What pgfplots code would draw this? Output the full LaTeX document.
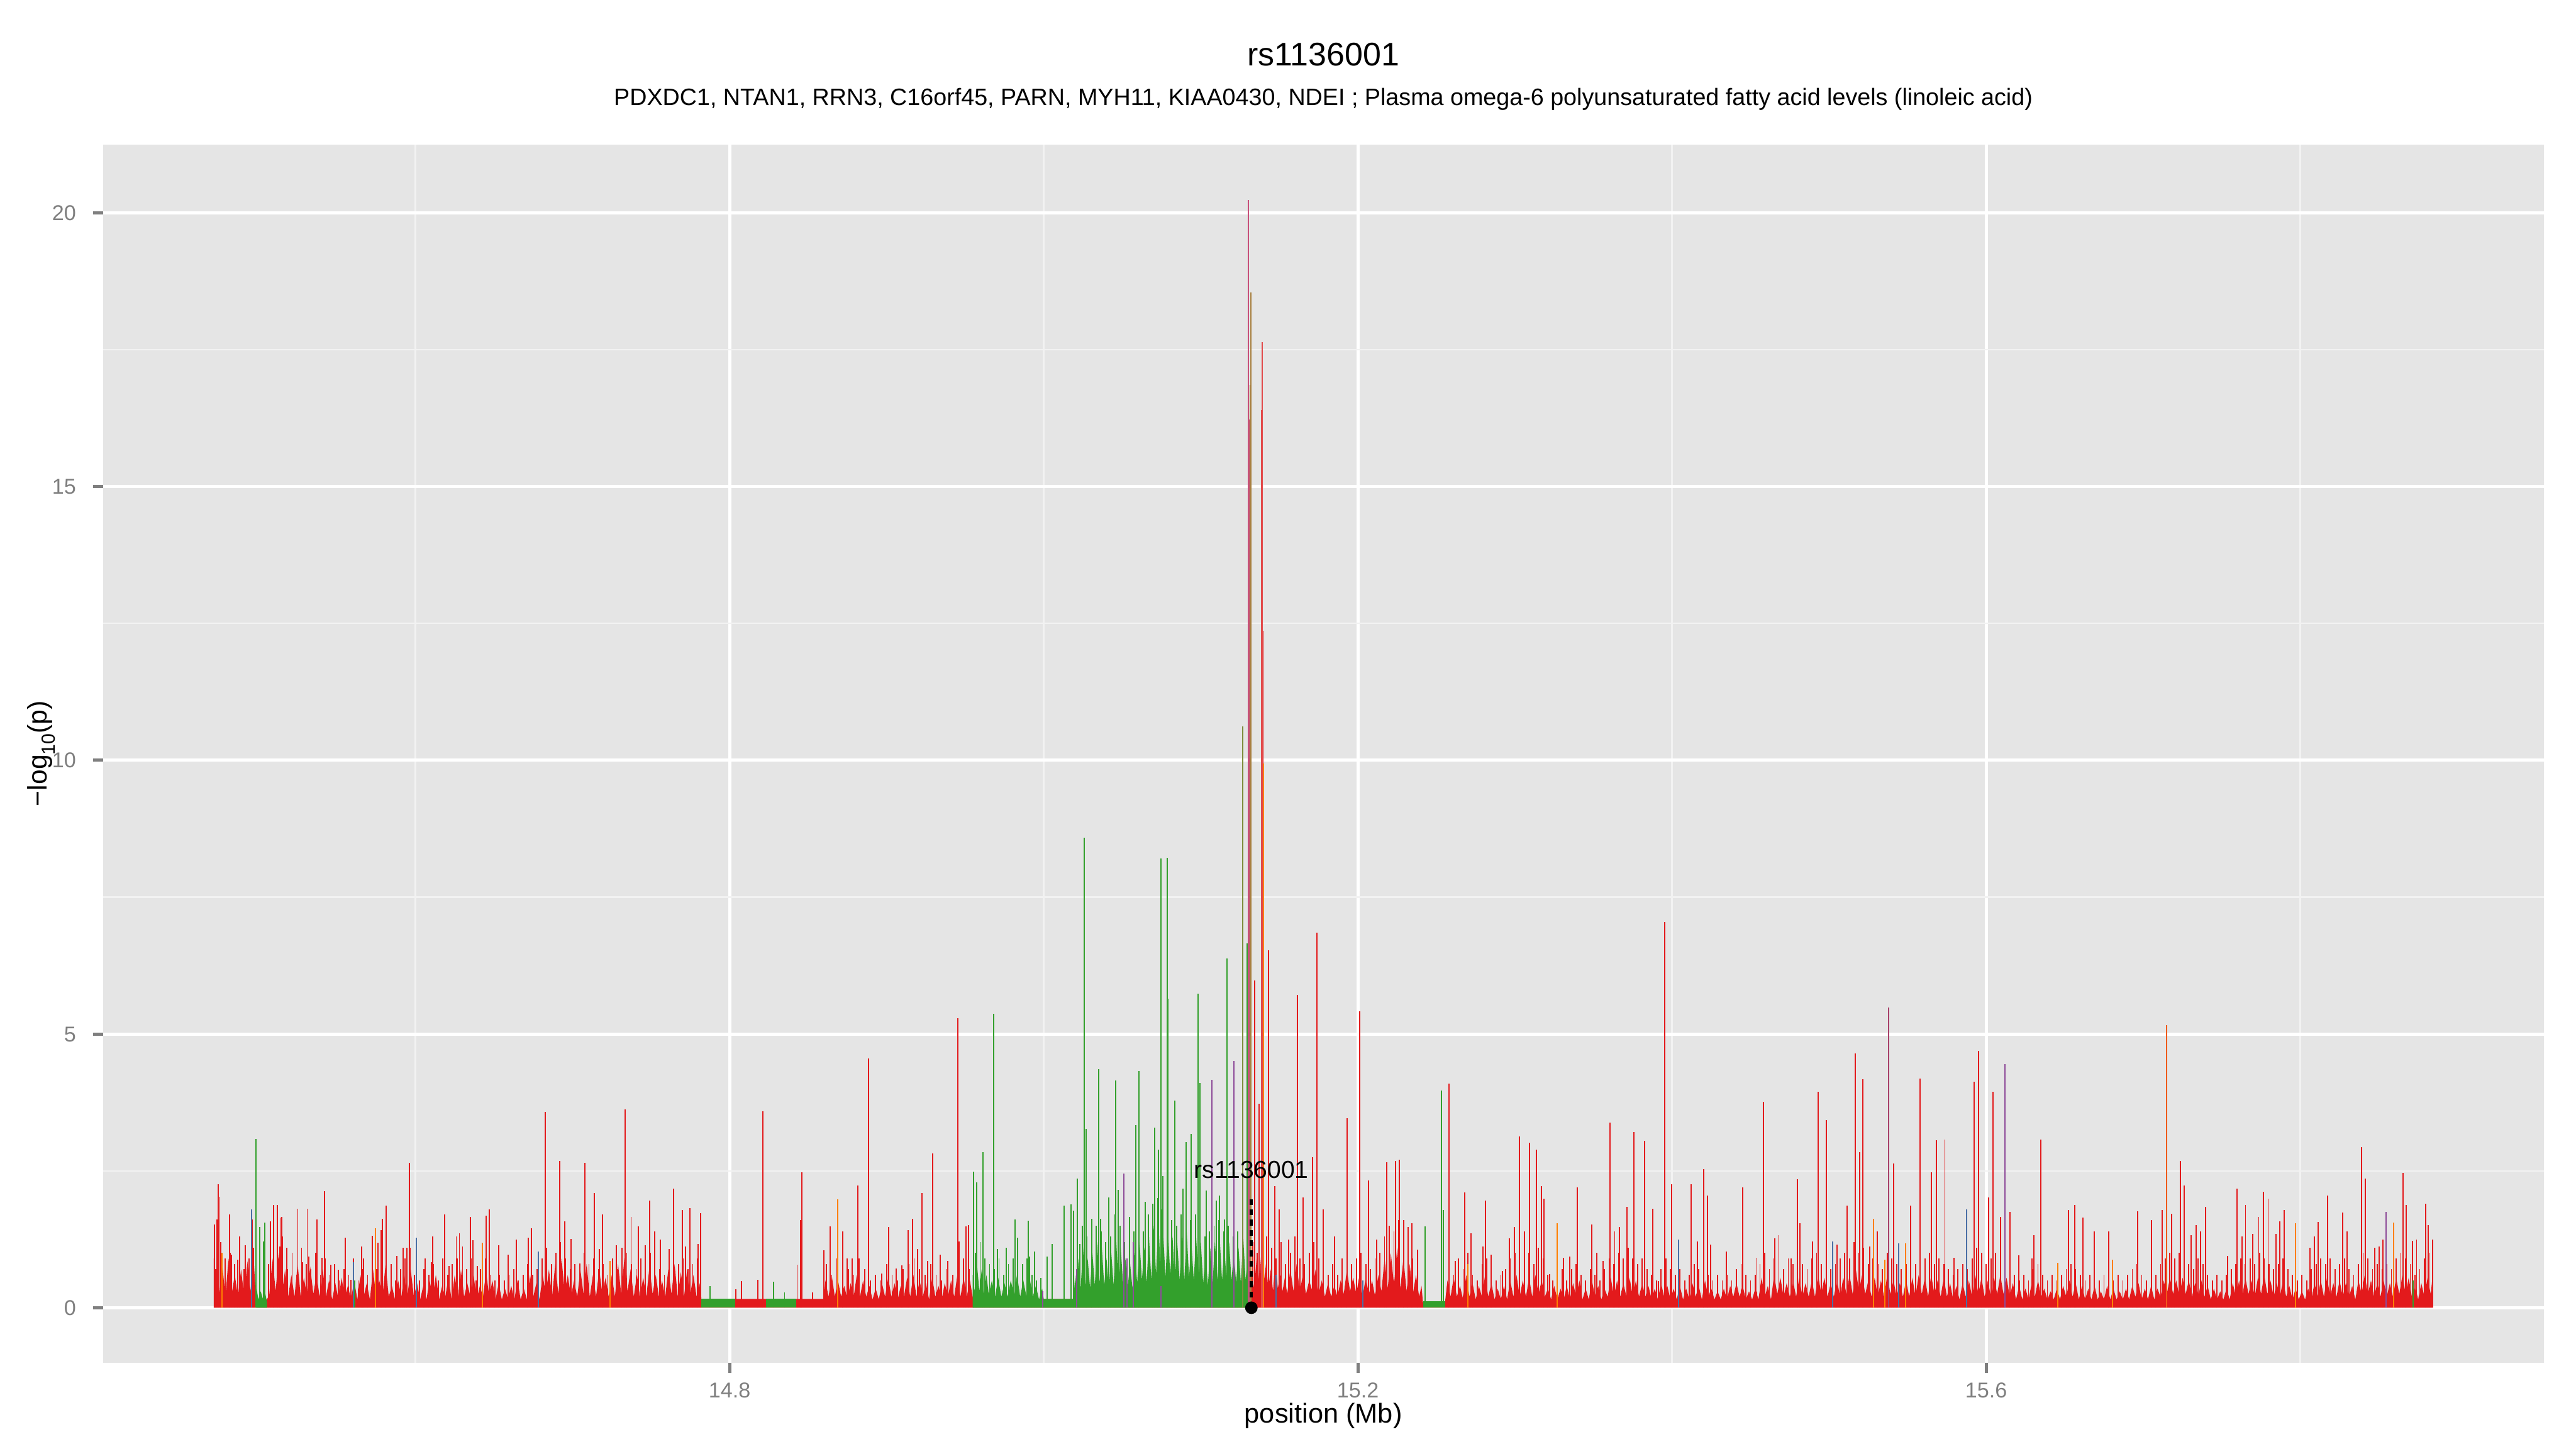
\documentclass[border=0pt]{standalone}
\usepackage{pgfplots}
\pgfplotsset{compat=1.18}
\usepackage{fontspec}
\setmainfont{Liberation Sans}
\definecolor{pred}{HTML}{E31A1C}
\definecolor{pgreen}{HTML}{33A02C}
\definecolor{porange}{HTML}{FF7F00}
\definecolor{pblue}{HTML}{4A6FA5}
\definecolor{ppurple}{HTML}{8E4C99}
\definecolor{polive}{HTML}{7E8E3C}
\definecolor{pmain}{HTML}{C8507A}
\definecolor{pbrown}{HTML}{A88040}
\definecolor{pred2}{HTML}{E24A4A}
\definecolor{pmag}{HTML}{A8406A}
\definecolor{pored}{HTML}{F05A1A}
\definecolor{grey90}{HTML}{E5E5E5}
\definecolor{grey95}{HTML}{F2F2F2}
\definecolor{grey50}{HTML}{7F7F7F}
\begin{document}
\begin{tikzpicture}
\useasboundingbox (0,0) rectangle (1152pt,648pt);
\begin{axis}[
  at={(46pt,38.4pt)}, anchor=south west,
  width=1091.6pt, height=544.8pt, scale only axis,
  xmin=14.401, xmax=15.955, ymin=-1.0115, ymax=21.24,
  axis background/.style={fill=grey90},
  axis line style={draw=none},
  xtick={14.8,15.2,15.6}, ytick={0,5,10,15,20},
  minor xtick={14.6,15.0,15.4,15.8}, minor ytick={2.5,7.5,12.5,17.5},
  xticklabels={}, yticklabels={},
  tick pos=left, tick align=outside,
  major tick length=4.25pt, minor tick length=0pt,
  tick style={draw=grey50, line width=1.4pt},
  grid=both,
  major grid style={draw=white, line width=1.4pt},
  minor grid style={draw=grey95, line width=0.7pt},
  clip=false,
]
% red base (dense low values)
\addplot[fill=pred, draw=none] coordinates {
(14.4716,0) (14.4716,0.9) (14.4728,0.3) (14.474,1.1) (14.4752,0.25) (14.477,0.8) (14.479,0.2) (14.481,0.9) (14.483,0.25) (14.485,0.6) (14.487,0.2) (14.489,0.7) (14.491,0.2) (14.493,0.85) (14.495,0.3) (14.497,0.9) (14.4985,0.15) (14.5055,0.15) (14.507,0.25) (14.509,0.9) (14.511,0.3) (14.513,1.0) (14.515,0.25) (14.517,0.7) (14.519,0.2) (14.521,0.6) (14.523,0.2) (14.525,0.8) (14.527,0.2) (14.529,0.55) (14.531,0.2) (14.533,0.75) (14.535,0.25) (14.537,0.6) (14.539,0.2) (14.541,0.7) (14.543,0.2) (14.545,0.5) (14.547,0.15) (14.549,0.45) (14.551,0.15) (14.553,0.55) (14.555,0.2) (14.557,0.4) (14.559,0.15)
(14.561,0.5) (14.563,0.15) (14.565,0.6) (14.567,0.2) (14.569,0.45) (14.571,0.15) (14.573,0.7) (14.575,0.2) (14.577,0.5) (14.579,0.2) (14.581,0.8) (14.583,0.2) (14.585,0.4) (14.587,0.15) (14.589,0.5) (14.591,0.2) (14.593,0.6) (14.595,0.25) (14.597,0.7) (14.599,0.2) (14.601,0.45) (14.603,0.15) (14.605,0.4) (14.607,0.15) (14.609,0.5) (14.611,0.2) (14.613,0.6) (14.615,0.15) (14.617,0.4) (14.619,0.2) (14.621,0.55) (14.623,0.15) (14.625,0.6) (14.627,0.2) (14.629,0.7) (14.631,0.2) (14.633,0.45) (14.635,0.2) (14.637,0.6) (14.639,0.15) (14.641,0.4) (14.643,0.2) (14.645,0.65) (14.647,0.2) (14.649,0.5) (14.651,0.15) (14.653,0.45) (14.655,0.15) (14.657,0.35) (14.659,0.15) (14.661,0.4) (14.663,0.15) (14.665,0.5) (14.667,0.15) (14.669,0.35) (14.671,0.15) (14.673,0.6) (14.675,0.2) (14.677,0.45) (14.679,0.15)
(14.681,0.6) (14.683,0.25) (14.685,0.7) (14.687,0.2) (14.689,0.8) (14.691,0.25) (14.693,0.9) (14.695,0.3) (14.697,0.6) (14.699,0.2) (14.701,0.5) (14.703,0.2) (14.705,0.7) (14.707,0.25) (14.709,0.8) (14.711,0.2) (14.713,0.6) (14.715,0.2) (14.717,0.7) (14.719,0.25) (14.721,0.55) (14.723,0.2) (14.725,0.6) (14.727,0.2) (14.729,0.8) (14.731,0.25) (14.733,0.9) (14.735,0.3) (14.737,0.7) (14.739,0.2) (14.741,0.6) (14.743,0.2) (14.745,0.55) (14.747,0.2) (14.749,0.75) (14.751,0.25) (14.753,0.6) (14.755,0.2) (14.757,0.5) (14.759,0.2) (14.761,0.7) (14.763,0.25) (14.765,0.8) (14.767,0.2) (14.769,0.65) (14.771,0.2) (14.773,0.7) (14.775,0.25) (14.777,0.6) (14.779,0.2) (14.7815,0.5) (14.782,0.16)
(14.804,0.16) (14.8072,0.16) (14.8075,0.49) (14.8078,0.16) (14.8177,0.16) (14.818,0.5) (14.8183,0.16) (14.86,0.16)
(14.861,0.5) (14.863,0.2) (14.865,0.6) (14.867,0.2) (14.869,0.5) (14.871,0.2) (14.873,0.4) (14.875,0.15) (14.877,0.45) (14.879,0.2) (14.881,0.6) (14.883,0.2) (14.885,0.5) (14.887,0.2) (14.889,0.4) (14.891,0.15) (14.893,0.35) (14.895,0.15) (14.897,0.45) (14.899,0.2) (14.901,0.55) (14.903,0.2) (14.905,0.45) (14.907,0.15) (14.909,0.4) (14.911,0.2) (14.913,0.55) (14.915,0.2) (14.917,0.6) (14.919,0.2) (14.921,0.5) (14.923,0.2) (14.925,0.45) (14.927,0.15) (14.929,0.55) (14.931,0.2) (14.933,0.4) (14.935,0.15) (14.937,0.45) (14.939,0.2) (14.941,0.5) (14.943,0.2) (14.945,0.6) (14.947,0.2) (14.949,0.55) (14.951,0.2) (14.953,0.5) (14.955,0.16)
(15.131,0.16)
(15.1325,0.6) (15.134,0.35) (15.1355,0.9) (15.137,0.4) (15.1385,1.0) (15.140,0.45) (15.1415,0.8) (15.143,0.35) (15.1445,0.7) (15.146,0.3) (15.1475,0.9) (15.149,0.35) (15.1505,0.6) (15.152,0.3) (15.1535,0.55) (15.155,0.25) (15.157,0.7) (15.159,0.3) (15.161,0.8) (15.163,0.3) (15.165,0.6) (15.167,0.25) (15.169,0.5) (15.171,0.3) (15.173,0.7) (15.175,0.25) (15.177,0.5) (15.179,0.2) (15.181,0.45) (15.183,0.2) (15.185,0.4) (15.187,0.2) (15.189,0.5) (15.191,0.25) (15.193,0.7) (15.195,0.3) (15.197,0.55) (15.199,0.25) (15.201,0.6) (15.203,0.2) (15.205,0.55) (15.207,0.25) (15.209,0.5) (15.211,0.2) (15.213,0.6) (15.215,0.3) (15.217,0.9) (15.219,0.35) (15.221,1.0) (15.223,0.4) (15.225,1.1) (15.227,0.35) (15.229,0.9) (15.231,0.3) (15.233,0.8) (15.235,0.25) (15.237,0.6) (15.239,0.2) (15.2405,0.4) (15.2414,0.1) (15.2555,0.1)
(15.257,0.5) (15.259,0.2) (15.261,0.55) (15.263,0.2) (15.265,0.4) (15.267,0.15) (15.269,0.6) (15.271,0.2) (15.273,0.45) (15.275,0.15) (15.277,0.4) (15.279,0.2) (15.281,0.6) (15.283,0.2) (15.285,0.45) (15.287,0.15) (15.289,0.35) (15.291,0.15) (15.293,0.4) (15.295,0.15) (15.297,0.5) (15.299,0.2) (15.301,0.6) (15.303,0.2) (15.305,0.5) (15.307,0.2) (15.309,0.55) (15.311,0.2) (15.313,0.6) (15.315,0.25) (15.317,0.5) (15.319,0.2) (15.321,0.35) (15.323,0.15) (15.325,0.4) (15.327,0.15) (15.329,0.35) (15.331,0.15) (15.333,0.4) (15.335,0.15) (15.337,0.45) (15.339,0.2) (15.341,0.5) (15.343,0.15) (15.345,0.35) (15.347,0.15) (15.349,0.5) (15.351,0.2) (15.353,0.4) (15.355,0.15) (15.357,0.35) (15.359,0.2) (15.361,0.55) (15.363,0.2) (15.365,0.5) (15.367,0.2) (15.369,0.45) (15.371,0.2) (15.373,0.55) (15.375,0.2) (15.377,0.5) (15.379,0.2) (15.381,0.45) (15.383,0.2) (15.385,0.4) (15.387,0.15) (15.389,0.35) (15.391,0.15) (15.393,0.45) (15.395,0.2) (15.397,0.4) (15.399,0.15)
(15.401,0.35) (15.403,0.15) (15.405,0.4) (15.407,0.15) (15.409,0.35) (15.411,0.15) (15.413,0.45) (15.415,0.2) (15.417,0.4) (15.419,0.15) (15.421,0.5) (15.423,0.2) (15.425,0.35) (15.427,0.15) (15.429,0.3) (15.431,0.15) (15.433,0.35) (15.435,0.15) (15.437,0.4) (15.439,0.2) (15.441,0.45) (15.443,0.2) (15.445,0.4) (15.447,0.15) (15.449,0.3) (15.451,0.15) (15.453,0.35) (15.455,0.15) (15.457,0.55) (15.459,0.2) (15.461,0.4) (15.463,0.15) (15.465,0.6) (15.467,0.25) (15.469,0.55) (15.471,0.2) (15.473,0.45) (15.475,0.2) (15.477,0.5) (15.479,0.2) (15.481,0.55) (15.483,0.2) (15.485,0.45) (15.487,0.2) (15.489,0.5) (15.491,0.2) (15.493,0.6) (15.495,0.25) (15.497,0.55) (15.499,0.2)
(15.501,0.45) (15.503,0.2) (15.505,0.5) (15.507,0.2) (15.509,0.55) (15.511,0.25) (15.513,0.6) (15.515,0.25) (15.517,0.7) (15.519,0.3) (15.521,0.6) (15.523,0.25) (15.525,0.5) (15.527,0.2) (15.529,0.55) (15.531,0.2) (15.533,0.5) (15.535,0.2) (15.537,0.6) (15.539,0.25) (15.541,0.5) (15.543,0.2) (15.545,0.45) (15.547,0.2) (15.549,0.5) (15.551,0.2) (15.553,0.55) (15.555,0.2) (15.557,0.6) (15.559,0.25) (15.561,0.55) (15.563,0.2) (15.565,0.6) (15.567,0.25) (15.569,0.5) (15.571,0.2) (15.573,0.55) (15.575,0.2) (15.577,0.45) (15.579,0.15) (15.581,0.4) (15.583,0.15) (15.585,0.45) (15.587,0.2) (15.589,0.5) (15.591,0.2) (15.593,0.6) (15.595,0.25) (15.597,0.55) (15.599,0.2)
(15.601,0.5) (15.603,0.2) (15.605,0.55) (15.607,0.25) (15.609,0.6) (15.611,0.25) (15.613,0.55) (15.615,0.2) (15.617,0.45) (15.619,0.15) (15.621,0.4) (15.623,0.15) (15.625,0.35) (15.627,0.15) (15.629,0.45) (15.631,0.2) (15.633,0.5) (15.635,0.2) (15.637,0.35) (15.639,0.15) (15.641,0.3) (15.643,0.15) (15.645,0.35) (15.647,0.15) (15.649,0.4) (15.651,0.2) (15.653,0.5) (15.655,0.2) (15.657,0.45) (15.659,0.15) (15.661,0.4) (15.663,0.15) (15.665,0.35) (15.667,0.15) (15.669,0.4) (15.671,0.15) (15.673,0.3) (15.675,0.15) (15.677,0.4) (15.679,0.15) (15.681,0.35) (15.683,0.15) (15.685,0.3) (15.687,0.15) (15.689,0.35) (15.691,0.15) (15.693,0.4) (15.695,0.2) (15.697,0.45) (15.699,0.15)
(15.701,0.35) (15.703,0.15) (15.705,0.4) (15.707,0.15) (15.709,0.35) (15.711,0.2) (15.713,0.5) (15.715,0.25) (15.717,0.55) (15.719,0.25) (15.721,0.5) (15.723,0.2) (15.725,0.55) (15.727,0.25) (15.729,0.5) (15.731,0.2) (15.733,0.45) (15.735,0.2) (15.737,0.5) (15.739,0.2) (15.741,0.4) (15.743,0.15) (15.745,0.35) (15.747,0.15) (15.749,0.3) (15.751,0.15) (15.753,0.35) (15.755,0.15) (15.757,0.45) (15.759,0.2) (15.761,0.5) (15.763,0.2) (15.765,0.55) (15.767,0.25) (15.769,0.5) (15.771,0.2) (15.773,0.55) (15.775,0.25) (15.777,0.6) (15.779,0.25) (15.781,0.5) (15.783,0.2) (15.785,0.45) (15.787,0.2) (15.789,0.5) (15.791,0.2) (15.793,0.4) (15.795,0.15) (15.797,0.35) (15.799,0.15)
(15.801,0.3) (15.803,0.15) (15.805,0.35) (15.807,0.15) (15.809,0.45) (15.811,0.2) (15.813,0.5) (15.815,0.2) (15.817,0.55) (15.819,0.2) (15.821,0.45) (15.823,0.2) (15.825,0.5) (15.827,0.2) (15.829,0.45) (15.831,0.2) (15.833,0.4) (15.835,0.15) (15.837,0.5) (15.839,0.25) (15.841,0.6) (15.843,0.25) (15.845,0.5) (15.847,0.2) (15.849,0.45) (15.851,0.2) (15.853,0.5) (15.855,0.2) (15.857,0.45) (15.859,0.2) (15.861,0.55) (15.863,0.25) (15.865,0.6) (15.867,0.25) (15.869,0.55) (15.871,0.2) (15.873,0.4) (15.875,0.15) (15.877,0.45) (15.879,0.2) (15.881,0.55) (15.883,0.25) (15.8843,0.6) (15.8843,0)
};
% green base
\addplot[fill=pgreen, draw=none] coordinates {(14.4986,0) (14.4986,0.4) (14.500,0.15) (14.5015,0.3) (14.503,0.15) (14.5045,0.25) (14.5055,0.1) (14.5055,0)};
\addplot[fill=pgreen, draw=none] coordinates {(14.782,0) (14.782,0.16) (14.804,0.16) (14.804,0)};
\addplot[fill=pgreen, draw=none] coordinates {(14.823,0) (14.823,0.16) (14.8425,0.16) (14.8425,0)};
\addplot[fill=pgreen, draw=none] coordinates {(15.2414,0) (15.2414,0.12) (15.2555,0.12) (15.2555,0)};
\addplot[fill=pgreen, draw=none] coordinates {
(14.9548,0) (14.9548,0.6) (14.956,0.3) (14.9575,0.8) (14.959,0.3) (14.9605,0.7) (14.962,0.25) (14.9635,0.6) (14.965,0.25) (14.967,0.5) (14.969,0.2) (14.971,0.55) (14.973,0.2) (14.975,0.45) (14.977,0.2) (14.979,0.5) (14.981,0.25) (14.983,0.6) (14.985,0.2) (14.987,0.5) (14.989,0.2) (14.991,0.55) (14.993,0.2) (14.995,0.4) (14.997,0.15) (14.999,0.35) (15.0,0.16) (15.019,0.16)
(15.020,0.6) (15.021,0.3) (15.022,0.9) (15.0235,0.35) (15.025,1.1) (15.0265,0.4) (15.028,0.9) (15.0295,0.35) (15.031,1.0) (15.0325,0.4) (15.034,1.2) (15.0355,0.45) (15.037,1.1) (15.0385,0.4) (15.040,0.9) (15.0415,0.35) (15.043,1.0) (15.0445,0.4) (15.046,1.3) (15.0475,0.5) (15.049,1.1) (15.0505,0.45) (15.052,0.9) (15.0535,0.4) (15.055,0.8) (15.0565,0.35) (15.058,1.0) (15.0595,0.45) (15.061,1.2) (15.0625,0.5) (15.064,1.1) (15.0655,0.45) (15.067,1.3) (15.0685,0.5) (15.070,1.5) (15.0715,0.6) (15.073,1.6) (15.0745,0.6) (15.076,1.4) (15.0775,0.55) (15.079,1.5) (15.0805,0.6) (15.082,1.3) (15.0835,0.5) (15.085,1.2) (15.0865,0.5) (15.088,1.3) (15.0895,0.5) (15.091,1.4) (15.0925,0.55) (15.094,1.2) (15.0955,0.5) (15.097,1.3) (15.0985,0.55) (15.100,1.2) (15.1015,0.45) (15.103,1.0) (15.1045,0.4) (15.106,1.1) (15.1075,0.45) (15.109,1.2) (15.1105,0.5) (15.112,1.3) (15.1135,0.5) (15.115,1.1) (15.1165,0.45) (15.118,1.2) (15.1195,0.5) (15.121,1.0) (15.1225,0.45) (15.124,1.1) (15.1255,0.45) (15.127,1.3) (15.1285,0.5) (15.130,1.0) (15.1315,0.4) (15.1315,0)
};
% dense small red values
\addplot[ycomb, draw=pred, line width=0.5pt] coordinates {
(14.4730,0.7)(14.4760,1.2)(14.4790,0.6)(14.4820,1.0)(14.4850,0.8)(14.4880,1.3)(14.4910,0.7)(14.4940,0.9)(14.4970,1.1)(14.5065,0.8)(14.5095,1.2)(14.5125,0.9)(14.5155,1.3)(14.5185,0.7)(14.5215,1.0)(14.5245,0.6)(14.5275,1.1)(14.5305,0.8)(14.5335,0.7)(14.5365,1.0)(14.5395,0.6)(14.5425,0.9)(14.5455,0.6)(14.5485,0.8)(14.5515,0.5)(14.5545,0.7)(14.5575,0.6)(14.5605,0.9)(14.5635,0.5)(14.5665,0.7)(14.5695,0.6)(14.5725,0.9)(14.5755,0.7)(14.5785,1.0)(14.5815,0.6)(14.5845,0.8)(14.5875,0.5)(14.5905,0.7)(14.5935,0.9)(14.5965,1.1)(14.5995,0.6)(14.6025,0.5)(14.6055,0.7)(14.6085,0.6)(14.6115,0.8)(14.6145,0.5)(14.6175,0.9)(14.6205,0.6)(14.6235,0.8)(14.6265,0.9)(14.6295,0.6)(14.6325,0.7)(14.6355,0.9)(14.6385,0.5)(14.6415,0.7)(14.6445,0.9)(14.6475,0.6)(14.6505,0.5)(14.6535,0.6)(14.6565,0.5)(14.6595,0.6)(14.6625,0.7)(14.6655,0.5)(14.6685,0.6)(14.6715,0.8)(14.6745,0.6)(14.6775,0.7)(14.6805,0.9)(14.6835,1.1)(14.6865,0.8)(14.6895,1.0)(14.6925,1.2)(14.6955,0.9)(14.6985,0.7)(14.7015,0.8)(14.7045,0.6)(14.7075,1.0)(14.7105,0.8)(14.7135,0.9)(14.7165,0.7)(14.7195,0.8)(14.7225,0.6)(14.7255,0.9)(14.7285,0.7)(14.7315,1.1)(14.7345,1.0)(14.7375,0.8)(14.7405,0.7)(14.7435,0.9)(14.7465,0.6)(14.7495,1.0)(14.7525,0.8)(14.7555,0.7)(14.7585,0.6)(14.7615,0.9)(14.7645,1.0)(14.7675,0.8)(14.7705,0.9)(14.7735,0.7)(14.7765,0.8)(14.7795,0.9)
(14.8615,0.8)(14.8650,0.6)(14.8685,0.9)(14.8720,0.5)(14.8755,0.7)(14.8790,0.6)(14.8825,0.9)(14.8860,0.7)(14.8895,0.5)(14.8930,0.6)(14.8965,0.5)(14.9000,0.8)(14.9035,0.6)(14.9070,0.5)(14.9105,0.7)(14.9140,0.8)(14.9175,0.9)(14.9210,0.7)(14.9245,0.6)(14.9280,0.8)(14.9315,0.6)(14.9350,0.5)(14.9385,0.7)(14.9420,0.6)(14.9455,0.8)(14.9490,0.9)(14.9525,0.7)
(15.1330,1.2)(15.1360,1.0)(15.1420,1.3)(15.1450,1.1)(15.1480,0.9)(15.1510,1.2)(15.1540,0.8)(15.1570,1.0)(15.1600,1.3)(15.1630,0.9)(15.1660,0.8)(15.1690,1.0)(15.1720,1.2)(15.1750,0.9)(15.1780,0.7)(15.1810,0.6)(15.1840,0.8)(15.1870,0.6)(15.1900,0.9)(15.1930,1.1)(15.1960,0.8)(15.1990,0.9)(15.2020,1.0)(15.2050,0.8)(15.2080,0.7)(15.2110,0.9)(15.2140,1.0)(15.2170,1.3)(15.2200,1.5)(15.2230,1.4)(15.2260,1.6)(15.2290,1.2)(15.2320,1.0)(15.2350,0.9)(15.2380,0.7)
(15.2580,0.8)(15.2610,0.6)(15.2640,0.9)(15.2670,0.7)(15.2700,1.0)(15.2730,0.6)(15.2760,0.5)(15.2790,0.8)(15.2820,0.9)(15.2850,0.6)(15.2880,0.5)(15.2910,0.6)(15.2940,0.7)(15.2970,0.9)(15.3000,1.0)(15.3030,0.8)(15.3060,0.9)(15.3090,1.0)(15.3120,0.8)(15.3150,1.1)(15.3180,0.9)(15.3210,0.6)(15.3240,0.5)(15.3270,0.6)(15.3300,0.7)(15.3330,0.5)(15.3360,0.7)(15.3390,0.8)(15.3420,0.6)(15.3450,0.5)(15.3480,0.7)(15.3510,0.6)(15.3540,0.5)(15.3570,0.7)(15.3600,0.9)(15.3630,0.8)(15.3660,1.0)(15.3690,0.9)(15.3720,1.1)(15.3750,0.9)(15.3780,0.8)(15.3810,0.9)(15.3840,0.7)(15.3870,0.6)(15.3900,0.5)(15.3930,0.7)(15.3960,0.9)(15.3990,0.7)
(15.4020,0.6)(15.4050,0.7)(15.4080,0.5)(15.4110,0.6)(15.4140,0.8)(15.4170,0.7)(15.4200,0.9)(15.4230,0.6)(15.4260,0.5)(15.4290,0.6)(15.4320,0.5)(15.4350,0.6)(15.4380,0.5)(15.4410,0.7)(15.4440,0.8)(15.4470,0.6)(15.4500,0.5)(15.4530,0.6)(15.4560,0.8)(15.4590,1.0)(15.4620,0.7)(15.4650,0.9)(15.4680,0.8)(15.4710,0.7)(15.4740,0.9)(15.4770,0.8)(15.4800,1.0)(15.4830,0.8)(15.4860,0.7)(15.4890,0.9)(15.4920,1.0)(15.4950,0.8)(15.4980,0.9)
(15.5010,0.7)(15.5040,0.8)(15.5070,0.9)(15.5100,1.0)(15.5130,0.9)(15.5160,1.2)(15.5190,1.0)(15.5220,1.1)(15.5250,0.8)(15.5280,0.9)(15.5310,0.8)(15.5340,0.7)(15.5370,1.0)(15.5400,0.9)(15.5430,0.8)(15.5460,0.7)(15.5490,0.8)(15.5520,0.9)(15.5550,0.8)(15.5580,1.1)(15.5610,0.9)(15.5640,1.0)(15.5670,0.8)(15.5700,0.9)(15.5730,0.8)(15.5760,0.7)(15.5790,0.6)(15.5820,0.7)(15.5850,0.8)(15.5880,0.7)(15.5910,0.9)(15.5940,1.1)(15.5970,1.0)
(15.6000,0.8)(15.6030,0.9)(15.6060,1.0)(15.6090,0.8)(15.6120,0.9)(15.6150,0.7)(15.6180,0.6)(15.6210,0.5)(15.6240,0.6)(15.6270,0.5)(15.6300,0.7)(15.6330,0.8)(15.6360,0.6)(15.6390,0.5)(15.6420,0.6)(15.6450,0.5)(15.6480,0.6)(15.6510,0.7)(15.6540,0.8)(15.6570,0.7)(15.6600,0.6)(15.6630,0.5)(15.6660,0.6)(15.6690,0.7)(15.6720,0.5)(15.6750,0.6)(15.6780,0.7)(15.6810,0.5)(15.6840,0.6)(15.6870,0.5)(15.6900,0.6)(15.6930,0.7)(15.6960,0.8)(15.6990,0.6)
(15.7020,0.5)(15.7050,0.7)(15.7080,0.6)(15.7110,0.8)(15.7140,0.9)(15.7170,1.0)(15.7200,0.9)(15.7230,1.0)(15.7260,0.9)(15.7290,0.8)(15.7320,0.7)(15.7350,0.9)(15.7380,0.8)(15.7410,0.6)(15.7440,0.5)(15.7470,0.6)(15.7500,0.5)(15.7530,0.6)(15.7560,0.7)(15.7590,0.8)(15.7620,0.9)(15.7650,0.8)(15.7680,0.9)(15.7710,0.8)(15.7740,1.0)(15.7770,0.9)(15.7800,0.8)(15.7830,0.7)(15.7860,0.8)(15.7890,0.9)(15.7920,0.7)(15.7950,0.6)(15.7980,0.5)
(15.8010,0.6)(15.8040,0.5)(15.8070,0.7)(15.8100,0.8)(15.8130,0.9)(15.8160,0.8)(15.8190,0.9)(15.8220,0.7)(15.8250,0.8)(15.8280,0.9)(15.8310,0.7)(15.8340,0.6)(15.8370,0.8)(15.8400,1.0)(15.8430,0.9)(15.8460,0.7)(15.8490,0.8)(15.8520,0.7)(15.8550,0.8)(15.8580,0.7)(15.8610,0.9)(15.8640,1.0)(15.8670,0.9)(15.8700,0.8)(15.8730,0.6)(15.8760,0.7)(15.8790,0.9)(15.8820,1.0)
};
% dense small green values
\addplot[ycomb, draw=pgreen, line width=0.5pt] coordinates {
(14.9565,1.0)(14.9595,1.2)(14.9625,0.9)(14.9655,0.8)(14.9685,0.7)(14.9715,0.9)(14.9745,0.6)(14.9775,0.8)(14.9805,0.9)(14.9835,0.7)(14.9865,0.8)(14.9895,0.9)(14.9925,0.6)(14.9955,0.5)
(15.0215,1.2)(15.0245,1.5)(15.0275,1.3)(15.0305,1.1)(15.0335,1.5)(15.0365,1.4)(15.0395,1.2)(15.0425,1.3)(15.0455,1.7)(15.0485,1.5)(15.0515,1.2)(15.0545,1.1)(15.0575,1.4)(15.0605,1.6)(15.0635,1.4)(15.0665,1.7)(15.0695,1.9)(15.0725,2.0)(15.0755,1.8)(15.0785,1.9)(15.0815,1.6)(15.0845,1.5)(15.0875,1.7)(15.0905,1.8)(15.0935,1.6)(15.0965,1.7)(15.0995,1.5)(15.1025,1.3)(15.1055,1.4)(15.1085,1.5)(15.1115,1.6)(15.1145,1.4)(15.1175,1.5)(15.1205,1.3)(15.1235,1.4)(15.1265,1.6)(15.1295,1.3)
};
% red spikes
\addplot[ycomb, draw=pred, line width=0.55pt] coordinates {
(14.4719,1.52)(14.4735,1.61)(14.4745,2.26)(14.4750,2.03)(14.4790,0.9)(14.4816,1.70)(14.4830,0.97)(14.4870,0.88)(14.4916,1.14)(14.4962,1.61)(14.5077,1.58)(14.5096,1.88)(14.5122,1.88)(14.5135,1.12)(14.5144,1.65)(14.5150,1.66)(14.5180,1.10)(14.5251,1.81)(14.5280,0.83)(14.5311,1.81)(14.5322,0.93)(14.5373,1.61)(14.5405,0.91)(14.5420,2.13)(14.5460,0.79)(14.5510,0.69)(14.5553,1.28)(14.5590,0.51)(14.5656,1.12)(14.5668,0.90)(14.5724,1.31)(14.5760,1.19)(14.5780,1.42)(14.5789,1.63)(14.5815,1.87)(14.5880,0.95)(14.5920,1.10)(14.5945,1.10)(14.5960,2.65)(14.6060,0.90)(14.6100,0.83)(14.6111,1.30)(14.6185,1.70)(14.6215,0.76)(14.6260,1.30)(14.6280,1.36)(14.6300,1.12)(14.6349,1.66)(14.6365,1.23)(14.6395,0.76)(14.6451,1.68)(14.6470,1.80)(14.6530,1.14)(14.6590,0.97)(14.6642,1.24)(14.6720,1.28)(14.6739,1.45)(14.6828,3.58)(14.6917,2.68)(14.6950,1.58)(14.6990,1.26)(14.7045,0.81)(14.7079,2.65)(14.7137,2.09)(14.7170,1.07)(14.7189,1.70)(14.7280,1.14)(14.7336,3.62)(14.7373,1.66)(14.7420,1.49)(14.7465,1.14)(14.7493,1.96)(14.7525,1.40)(14.7560,1.24)(14.7615,1.07)(14.7644,2.17)(14.7699,1.79)(14.7720,1.12)(14.7747,1.82)(14.7800,1.17)(14.7815,1.73)(14.8040,0.34)(14.8075,0.49)(14.8180,0.51)(14.8212,3.59)(14.8430,0.79)(14.8452,1.60)(14.8461,2.47)(14.8530,0.28)(14.8600,1.05)(14.8640,1.49)(14.8720,1.40)(14.8750,0.90)(14.8780,0.90)(14.8815,2.23)(14.8886,4.55)(14.8930,0.51)(14.8970,0.62)(14.9012,1.47)(14.9060,0.72)(14.9095,0.77)(14.9135,1.42)(14.9166,1.63)(14.9195,1.07)(14.9224,2.10)(14.9260,0.86)(14.9294,2.82)(14.9340,0.97)(14.9390,0.86)(14.9454,5.29)(14.9462,1.21)(14.9505,1.49)(14.9522,1.51)
(15.1341,5.98)(15.1371,3.73)(15.1396,12.37)(15.1432,6.53)(15.1470,2.22)(15.1500,1.80)(15.1560,1.24)(15.1615,5.71)(15.1650,2.01)(15.1711,2.75)(15.1740,6.85)(15.1780,1.80)(15.1850,1.30)(15.1932,3.46)(15.2013,5.41)(15.2066,2.32)(15.2120,1.24)(15.2185,2.66)(15.2240,2.68)(15.2262,2.70)(15.2290,1.60)(15.2320,1.48)(15.2345,1.54)(15.2380,1.06)(15.2579,4.09)(15.2620,0.85)(15.2680,2.11)(15.2720,1.36)(15.2795,1.12)(15.2812,1.96)(15.2850,0.97)(15.2920,0.67)(15.2965,1.27)(15.2995,1.48)(15.3029,3.13)(15.3060,1.39)(15.3094,3.01)(15.3136,2.89)(15.3170,2.22)(15.3185,1.99)(15.3220,0.61)(15.3310,0.91)(15.3350,0.94)(15.3397,2.20)(15.3490,1.52)(15.3520,1.00)(15.3560,0.85)(15.3604,3.38)(15.3635,1.39)(15.3665,1.48)(15.3715,1.84)(15.3759,3.21)(15.3824,3.05)(15.3877,1.81)(15.3912,0.49)(15.3952,7.05)(15.3996,2.26)(15.4120,2.26)(15.4160,1.21)(15.4203,2.53)(15.4224,2.05)(15.4245,1.15)(15.4345,1.03)(15.4449,2.20)(15.4540,0.91)(15.4583,3.76)(15.4655,1.27)(15.4680,1.33)(15.4760,0.90)(15.4800,2.35)(15.4815,1.54)(15.4895,1.21)(15.4931,3.95)(15.4983,3.43)(15.5050,1.15)(15.5115,1.87)(15.5166,4.64)(15.5195,2.84)(15.5213,4.18)(15.5260,1.12)(15.5307,1.39)(15.5410,2.63)(15.5520,1.87)(15.5579,4.19)(15.5650,2.47)(15.5684,3.06)(15.5737,3.07)(15.5795,0.91)(15.5924,4.13)(15.5951,4.69)(15.6016,2.02)(15.6045,3.95)(15.6092,1.66)(15.6153,1.75)(15.6208,0.96)(15.6290,0.90)(15.6304,1.32)(15.6348,3.07)(15.6524,1.78)(15.6563,1.88)(15.6615,1.65)(15.6687,1.39)(15.6781,1.39)(15.6965,1.76)(15.7052,1.60)(15.7121,1.78)(15.7181,1.72)(15.7237,2.68)(15.7260,2.23)(15.7306,1.33)(15.7335,1.51)(15.7365,1.40)(15.7395,1.84)(15.7535,0.95)(15.7596,2.18)(15.7630,1.30)(15.7651,1.88)(15.7697,1.35)(15.7735,1.66)(15.7764,2.12)(15.7795,1.99)(15.7845,1.35)(15.7868,1.58)(15.7896,1.78)(15.8060,1.10)(15.8090,1.30)(15.8112,1.57)(15.8174,2.05)(15.8270,1.74)(15.8298,1.40)(15.8388,2.93)(15.8413,2.36)(15.8475,1.10)(15.8500,1.12)(15.8525,1.25)(15.8654,2.46)(15.8673,1.88)(15.8715,1.22)(15.8740,1.24)(15.8798,1.90)(15.8815,1.51)(15.8843,1.24)
};
% orange spikes
\addplot[ycomb, draw=porange, line width=0.55pt] coordinates {
(14.4770,1.0)(14.5745,1.45)(14.6425,1.19)(14.7240,0.86)(14.8689,1.98)(15.1400,9.94)(15.2700,0.8)(15.3270,1.54)(15.5284,1.62)(15.5354,0.88)(15.5486,1.18)(15.6457,0.82)(15.6804,0.88)(15.7968,1.54)(15.8594,1.56)
};
\addplot[ycomb, draw=pored, line width=0.55pt] coordinates {(15.7148,5.16)};
% blue spikes
\addplot[ycomb, draw=pblue, line width=0.55pt] coordinates {
(14.4955,1.80)(14.5607,0.83)(14.6004,1.28)(14.6783,1.03)(15.1480,0.6)(15.2030,0.5)(15.4041,1.24)(15.5022,1.21)(15.5444,1.18)(15.5875,1.80)
};
% green spikes
\addplot[ycomb, draw=pgreen, line width=0.55pt] coordinates {
(14.4986,3.08)(14.5010,1.47)(14.5033,1.21)(14.5040,1.56)(14.5615,0.5)(14.7875,0.4)(14.8280,0.47)(14.8350,0.28)(14.9553,2.49)(14.9575,2.29)(14.9613,2.84)(14.9680,5.37)(14.9705,1.07)(14.9760,1.10)(14.9816,1.61)(14.9835,1.28)(14.9900,1.59)(14.9908,0.93)(14.9940,1.03)(14.9980,0.55)(15.0020,0.93)(15.0055,1.17)(15.0129,1.87)(15.0175,1.89)(15.0190,1.77)(15.0215,2.36)(15.0228,1.17)(15.0257,8.59)(15.0270,3.27)(15.0305,1.63)(15.0348,4.36)(15.0360,1.63)(15.0415,2.01)(15.0458,4.15)(15.0475,2.15)(15.0545,1.66)(15.0587,3.34)(15.0605,4.32)(15.0648,1.93)(15.0707,3.29)(15.0730,2.89)(15.0746,8.21)(15.0760,2.40)(15.0785,8.22)(15.0790,5.65)(15.0835,3.78)(15.0885,2.18)(15.0906,3.03)(15.0940,3.17)(15.0982,5.74)(15.0995,4.11)(15.1035,2.14)(15.1100,1.96)(15.1120,2.05)(15.1150,1.61)(15.1167,6.38)(15.1294,6.66)(15.2426,1.49)(15.2532,3.97)(15.2545,1.78)(15.8718,0.5)
};
\addplot[ycomb, draw=polive, line width=0.55pt] coordinates {(15.1266,10.62)};
% purple / magenta spikes
\addplot[ycomb, draw=ppurple, line width=0.55pt] coordinates {
(14.9993,0.3)(15.0211,0.7)(15.0511,2.45)(15.0530,0.9)(15.0570,1.2)(15.0745,0.4)(15.1071,4.16)(15.1212,4.51)(15.6121,4.45)(15.8546,1.75)
};
\addplot[ycomb, draw=pmag, line width=0.55pt] coordinates {(15.5378,5.48)};
% top peaks
\addplot[ycomb, draw=pmain, line width=0.6pt] coordinates {(15.1304,20.23)(15.1307,16.22)};
\addplot[ycomb, draw=pbrown, line width=0.6pt] coordinates {(15.1316,16.86)(15.1320,18.55)};
\addplot[ycomb, draw=pred2, line width=0.6pt] coordinates {(15.1388,16.40)(15.1391,17.64)};
% index SNP marker
\addplot[black, line width=1.4pt, dash pattern=on 2.6pt off 2pt] coordinates {(15.1322,0) (15.1322,2.02)};
\addplot[only marks, mark=*, mark size=2.6pt, mark options={fill=black, draw=black}] coordinates {(15.1322,0)};
\node[font=\fontsize{11}{13}\selectfont, anchor=center] at (axis cs:15.1322,2.52) {rs1136001};
% tick labels
\node[anchor=base, yshift=-15.6pt, text=grey50, font=\fontsize{9.6}{11}\selectfont] at (axis cs:14.8,-1.0115) {14.8};
\node[anchor=base, yshift=-15.6pt, text=grey50, font=\fontsize{9.6}{11}\selectfont] at (axis cs:15.2,-1.0115) {15.2};
\node[anchor=base, yshift=-15.6pt, text=grey50, font=\fontsize{9.6}{11}\selectfont] at (axis cs:15.6,-1.0115) {15.6};
\node[anchor=base east, xshift=-8.5pt, yshift=-3.4pt, text=grey50, font=\fontsize{9.6}{11}\selectfont] at (axis cs:14.401,0) {0};
\node[anchor=base east, xshift=-8.5pt, yshift=-3.4pt, text=grey50, font=\fontsize{9.6}{11}\selectfont] at (axis cs:14.401,5) {5};
\node[anchor=base east, xshift=-8.5pt, yshift=-3.4pt, text=grey50, font=\fontsize{9.6}{11}\selectfont] at (axis cs:14.401,10) {10};
\node[anchor=base east, xshift=-8.5pt, yshift=-3.4pt, text=grey50, font=\fontsize{9.6}{11}\selectfont] at (axis cs:14.401,15) {15};
\node[anchor=base east, xshift=-8.5pt, yshift=-3.4pt, text=grey50, font=\fontsize{9.6}{11}\selectfont] at (axis cs:14.401,20) {20};
\end{axis}
\node[anchor=base, font=\fontsize{14.6}{17}\selectfont] at (591.8pt,618.6pt) {rs1136001};
\node[anchor=base, font=\fontsize{10.6}{12}\selectfont] at (591.8pt,601pt) {PDXDC1, NTAN1, RRN3, C16orf45, PARN, MYH11, KIAA0430, NDEI ; Plasma omega-6 polyunsaturated fatty acid levels (linoleic acid)};
\node[anchor=base, font=\fontsize{12.2}{14}\selectfont] at (591.8pt,11.8pt) {position (Mb)};
\node[anchor=base, rotate=90, font=\fontsize{12}{14}\selectfont] at (21pt,311pt) {−log\raisebox{-0.3em}{\fontsize{8.5}{10}\selectfont 10}(p)};
\end{tikzpicture}
\end{document}
